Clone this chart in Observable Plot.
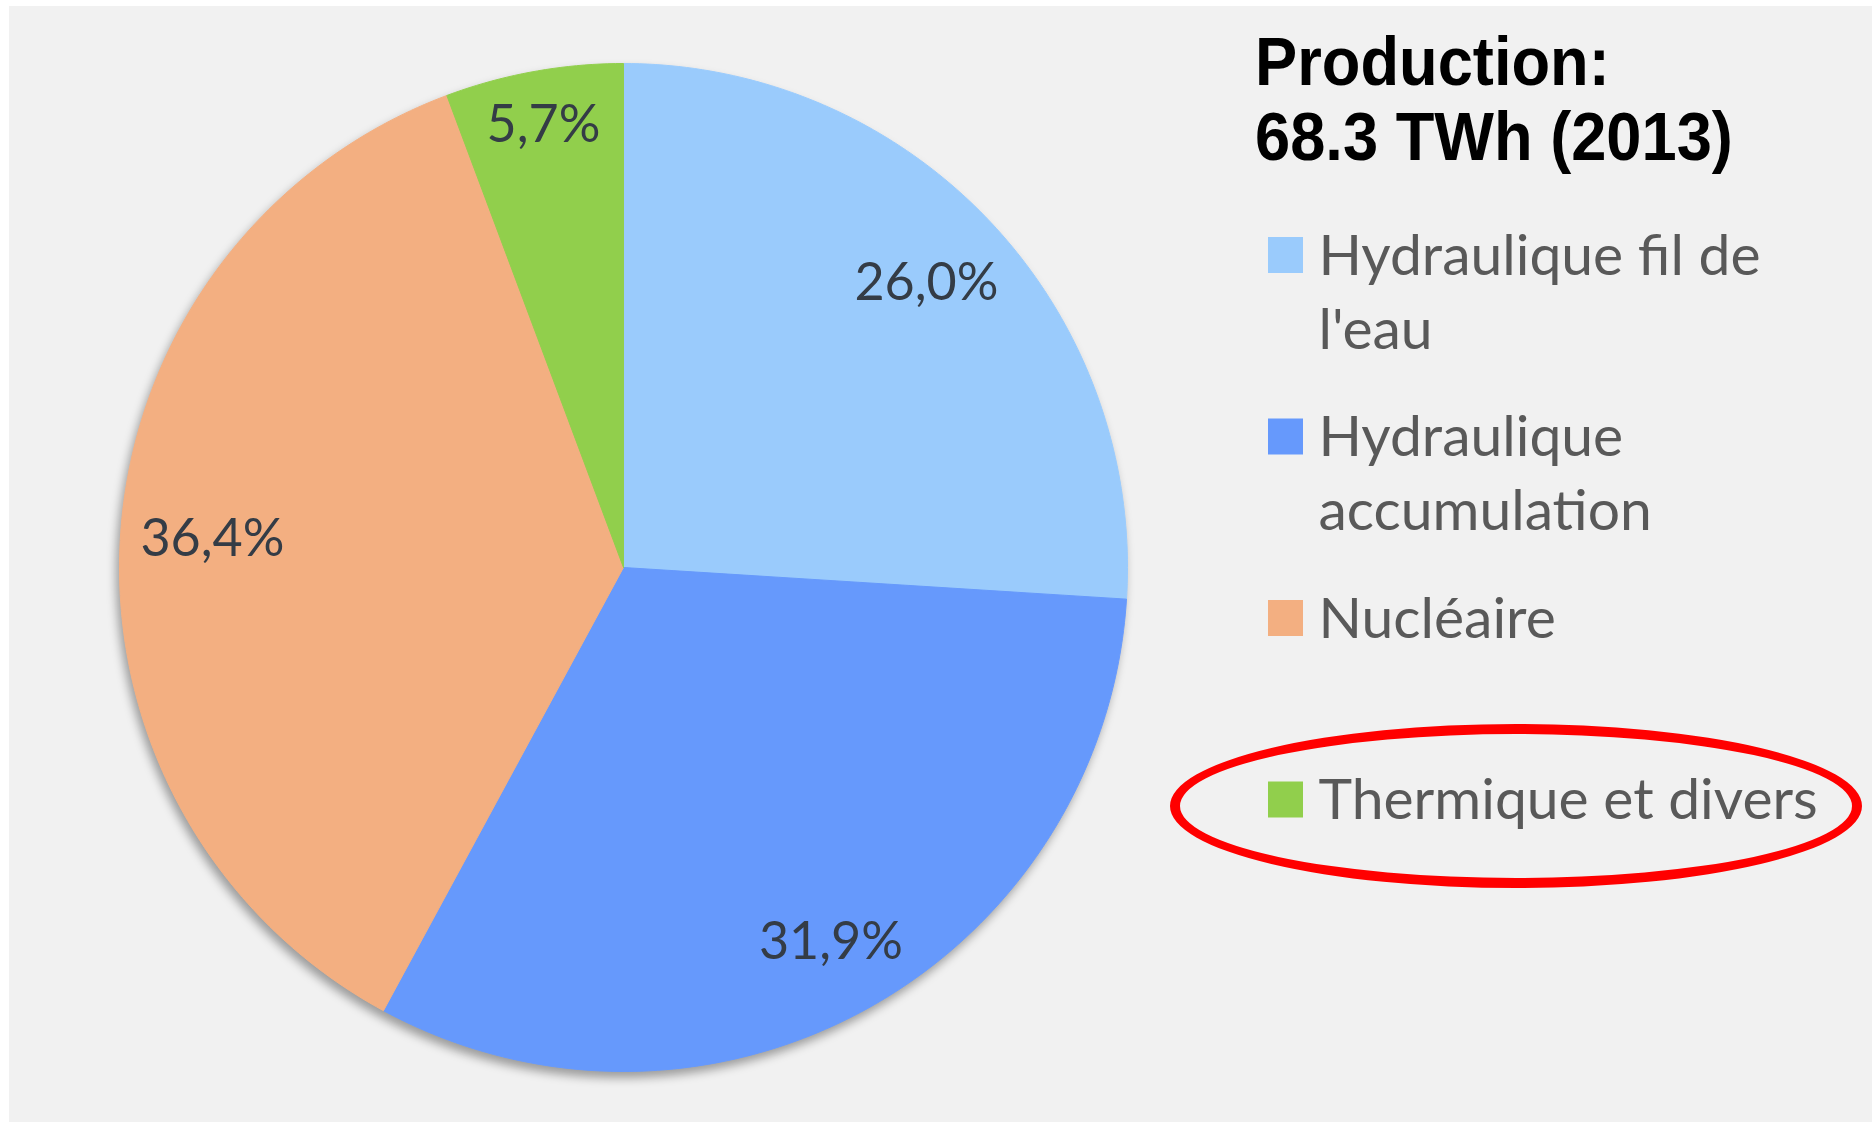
<!DOCTYPE html>
<html><head><meta charset="utf-8">
<script src="https://cdn.jsdelivr.net/npm/d3@7"></script>
<script src="https://cdn.jsdelivr.net/npm/@observablehq/plot@0.6"></script>
<style>
html,body{margin:0;padding:0;background:#fff;width:1872px;height:1122px;overflow:hidden;}
#bg{position:absolute;left:9px;top:6px;right:0;bottom:0;background:#f1f1f1;}
#chart{position:absolute;left:0;top:0;}
#ring{position:absolute;border:10px solid #ff0000;border-radius:50%;box-sizing:border-box;}
</style></head><body>
<div id="bg"></div><div id="chart"></div><div id="ring"></div>
<script>
// ---- data ----
const categories = ["Hydraulique fil de l'eau", "Hydraulique accumulation", "Nucléaire", "Thermique et divers"];
const shares = [26.0, 31.9, 36.4, 5.7];
const colors = ["#9acbfc", "#6699fc", "#f3af81", "#91cf4c"];
const legendLines = ["Hydraulique fil de\nl'eau", "Hydraulique\naccumulation", "Nucléaire", "Thermique et divers"];
const titleLines = ["Production:", "68.3 TWh (2013)"];
const highlighted = "Thermique et divers";

// ---- layout ----
const W = 1872, H = 1122;
const cx = 623, cy = 567, R = 504;
const labelFs = 52;
const legendX = 1318, legendBase = 274, legendStep = 181.5, legendLine = 74, legendFs = 57;
const swatchX = 1268, swatchW = 35, swatchH = 36, swatchTop = 237;
const titleX = 1255, titleBase = 85, titleLine = 75, titleFs = 68, titleSX = 0.93;

const rows = categories.map((name, i) => ({name, share: shares[i]}));
const arcs = d3.pie().sort(null).value(d => d.share)(rows);

const piePts = [];
for (const a of arcs) {
  const n = Math.max(2, Math.ceil((a.endAngle - a.startAngle) / (Math.PI * 2) * 400));
  piePts.push({name: a.data.name, x: cx, y: cy});
  for (let k = 0; k <= n; k++) {
    const t = a.startAngle + (a.endAngle - a.startAngle) * k / n;
    piePts.push({name: a.data.name, x: cx + R * Math.sin(t), y: cy - R * Math.cos(t)});
  }
  piePts.push({name: a.data.name, x: cx, y: cy});
}
// labels placed "inside end": the text box is kept inside a ring of radius 0.96R
const labels = arcs.map(a => {
  const m = (a.startAngle + a.endAngle) / 2;
  const text = a.data.share.toFixed(1).replace(".", ",") + "%";
  const hw = text.length * 0.27 * labelFs, hh = 0.48 * labelFs;
  const r = 0.96 * R - (hw * Math.abs(Math.sin(m)) + hh * Math.abs(Math.cos(m)));
  return {x: cx + r * Math.sin(m), y: cy - r * Math.cos(m), text};
});

const legendRows = [];
legendLines.forEach((s, i) => s.split("\n").forEach((t, j) => legendRows.push({t, i, j})));

const chart = Plot.plot({
  width: W, height: H, margin: 0,
  x: {type: "linear", domain: [0, W], range: [0, W], axis: null},
  y: {type: "linear", domain: [0, H], range: [0, H], axis: null},
  color: {domain: categories, range: colors},
  style: {background: "transparent", overflow: "visible"},
  marks: [
    Plot.line(piePts, {x: "x", y: "y", z: "name", fill: "name", stroke: "name", strokeWidth: 1, curve: "linear"}),
    Plot.text(labels, {x: "x", y: "y", text: "text", fontSize: labelFs, fontFamily: "Lato", fill: "#343c46", textAnchor: "middle", lineAnchor: "middle"}),
    Plot.text(titleLines, {x: titleX, y: (d, i) => titleBase + i * titleLine, text: d => d, fontSize: titleFs, fontWeight: "bold",
      fontFamily: "Liberation Sans, Arial", fill: "#000", textAnchor: "start", lineAnchor: "bottom"}),
    Plot.rect(categories, {x1: swatchX, x2: swatchX + swatchW, y1: (d, i) => swatchTop + i * legendStep, y2: (d, i) => swatchTop + i * legendStep + swatchH, fill: d => d}),
    Plot.text(legendRows, {x: legendX, y: d => legendBase + d.i * legendStep + d.j * legendLine, text: "t", fontSize: legendFs, fontFamily: "Lato",
      fill: "#595959", textAnchor: "start", lineAnchor: "bottom"})
  ]
});
document.getElementById("chart").appendChild(chart);
const pieG = chart.querySelector('g[aria-label="line"]');
if (pieG) pieG.style.filter = "drop-shadow(-3px 6px 5px rgba(0,0,0,0.35))";
const textGs = chart.querySelectorAll('g[aria-label="text"]');
const titleG = textGs[1];
if (titleG) titleG.setAttribute("transform", `matrix(${titleSX},0,0,1,${titleX * (1 - titleSX)},0)`);

// highlight ring around the highlighted legend entry
const hi = categories.indexOf(highlighted);
const ringCy = swatchTop + hi * legendStep + 24, ringRx = 346, ringRy = 82;
const ring = document.getElementById("ring");
ring.style.left = (1516 - ringRx) + "px";
ring.style.top = (ringCy - ringRy) + "px";
ring.style.width = (2 * ringRx) + "px";
ring.style.height = (2 * ringRy) + "px";
</script>
</body></html>
